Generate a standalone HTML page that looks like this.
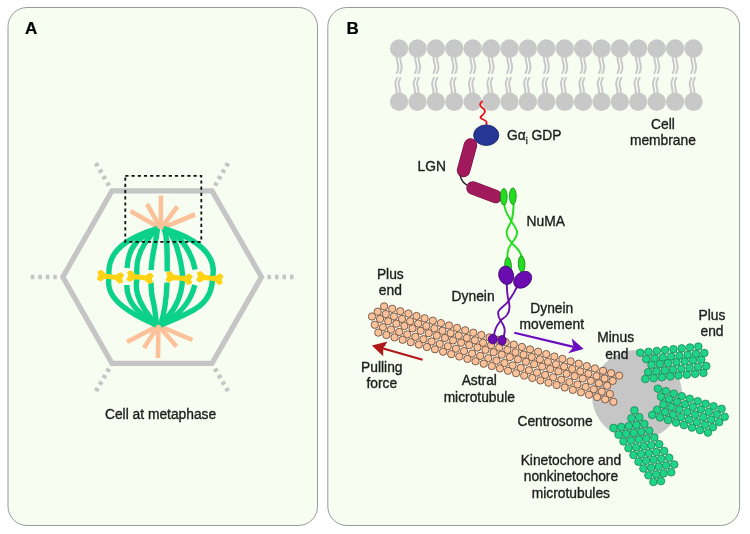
<!DOCTYPE html>
<html><head><meta charset="utf-8"><style>
html,body{margin:0;padding:0;background:#fff;}
svg{display:block;filter:blur(0.35px);font-family:"Liberation Sans",sans-serif;}
</style></head><body>
<svg width="750" height="534" viewBox="0 0 750 534">
<rect x="0" y="0" width="750" height="534" fill="#ffffff"/>
<rect x="8" y="7.5" width="309.5" height="518" rx="19" ry="19" fill="#f7fdf1" stroke="#9a9a9a" stroke-width="1.0"/>
<rect x="327.8" y="7.5" width="411.8" height="518" rx="19" ry="19" fill="#f7fdf1" stroke="#9a9a9a" stroke-width="1.0"/>
<polygon points="62.8,277 112,190.8 212,190.8 261.5,277 212,363.4 112,363.4" fill="none" stroke="#c5c5c5" stroke-width="5.3" stroke-linejoin="miter"/>
<line x1="56.8" y1="277.0" x2="30.8" y2="277.0" stroke="#c5c5c5" stroke-width="4.6" stroke-dasharray="3.5 4.0"/>
<line x1="109.0" y1="185.6" x2="95.9" y2="163.1" stroke="#c5c5c5" stroke-width="4.6" stroke-dasharray="3.5 4.0"/>
<line x1="215.0" y1="185.6" x2="228.1" y2="163.1" stroke="#c5c5c5" stroke-width="4.6" stroke-dasharray="3.5 4.0"/>
<line x1="267.5" y1="277.0" x2="293.5" y2="277.0" stroke="#c5c5c5" stroke-width="4.6" stroke-dasharray="3.5 4.0"/>
<line x1="215.0" y1="368.6" x2="228.0" y2="391.1" stroke="#c5c5c5" stroke-width="4.6" stroke-dasharray="3.5 4.0"/>
<line x1="109.0" y1="368.6" x2="96.0" y2="391.1" stroke="#c5c5c5" stroke-width="4.6" stroke-dasharray="3.5 4.0"/>
<line x1="160.8" y1="228.6" x2="161" y2="195.5" stroke="#fbc29a" stroke-width="4.6" stroke-linecap="butt"/>
<line x1="160.8" y1="228.6" x2="147" y2="204" stroke="#fbc29a" stroke-width="4.6" stroke-linecap="butt"/>
<line x1="160.8" y1="228.6" x2="130.5" y2="211" stroke="#fbc29a" stroke-width="4.6" stroke-linecap="butt"/>
<line x1="160.8" y1="228.6" x2="177.5" y2="206.5" stroke="#fbc29a" stroke-width="4.6" stroke-linecap="butt"/>
<line x1="160.8" y1="228.6" x2="195" y2="214.5" stroke="#fbc29a" stroke-width="4.6" stroke-linecap="butt"/>
<line x1="158.4" y1="325.6" x2="158" y2="358" stroke="#fbc29a" stroke-width="4.6" stroke-linecap="butt"/>
<line x1="158.4" y1="325.6" x2="127" y2="342" stroke="#fbc29a" stroke-width="4.6" stroke-linecap="butt"/>
<line x1="158.4" y1="325.6" x2="144" y2="348" stroke="#fbc29a" stroke-width="4.6" stroke-linecap="butt"/>
<line x1="158.4" y1="325.6" x2="176.5" y2="346.5" stroke="#fbc29a" stroke-width="4.6" stroke-linecap="butt"/>
<line x1="158.4" y1="325.6" x2="192.5" y2="340" stroke="#fbc29a" stroke-width="4.6" stroke-linecap="butt"/>
<path d="M157.5,228.6 C103.0,244.4 109.0,270.5 109.0,277 C109.0,282.0 100.2,301.3 156.5,325" fill="none" stroke="#0cd18b" stroke-width="5.4"/>
<path d="M157.50,228.60 C134.35,238.92 128.27,249.68 127.06,268.00" fill="none" stroke="#0cd18b" stroke-width="5.4"/>
<path d="M156.50,325.00 C130.32,308.27 127.13,297.43 126.81,285.00" fill="none" stroke="#0cd18b" stroke-width="5.4"/>
<path d="M157.5,228.6 C131.8,252.2 137.2,275.5 137.2,277 C137.2,281.2 129.7,294.7 156.5,325" fill="none" stroke="#0cd18b" stroke-width="5.4"/>
<path d="M157.50,228.60 C155.28,247.88 151.87,253.03 151.14,270.00" fill="none" stroke="#0cd18b" stroke-width="5.4"/>
<path d="M156.50,325.00 C153.43,290.44 151.31,304.65 151.03,282.50" fill="none" stroke="#0cd18b" stroke-width="5.4"/>
<path d="M163.50,228.60 C167.40,232.78 167.27,253.12 167.21,271.50" fill="none" stroke="#0cd18b" stroke-width="5.4"/>
<path d="M160.50,325.00 C165.27,310.78 166.70,292.44 167.08,282.50" fill="none" stroke="#0cd18b" stroke-width="5.4"/>
<path d="M163.5,228.6 C177.1,231.6 182.5,271.0 182.5,277 C182.5,307.1 163.1,320.6 160.5,325" fill="none" stroke="#0cd18b" stroke-width="5.4"/>
<path d="M163.50,228.60 C180.51,232.85 192.10,254.03 195.18,269.50" fill="none" stroke="#0cd18b" stroke-width="5.4"/>
<path d="M160.50,325.00 C184.12,313.77 192.17,295.63 194.80,285.00" fill="none" stroke="#0cd18b" stroke-width="5.4"/>
<path d="M163.5,228.6 C223.5,246.0 212.5,276.0 212.5,277 C212.5,302.7 198.2,310.3 160.5,325" fill="none" stroke="#0cd18b" stroke-width="5.4"/>
<path transform="translate(110.4,276.8) rotate(7)" d="M-12.2,-3.2 L-9.6,-4.6 L-5.8,-1.5 L0,-1.4 L5.8,-1.5 L9.6,-4.6 L12.2,-3.2 L10.6,0 L12.2,3.2 L9.6,4.6 L5.8,1.5 L0,1.4 L-5.8,1.5 L-9.6,4.6 L-12.2,3.2 L-10.6,0 Z" fill="#fdd314" stroke="#fdd314" stroke-width="2.2" stroke-linejoin="round"/>
<path transform="translate(140,277.3) rotate(7)" d="M-12.2,-3.2 L-9.6,-4.6 L-5.8,-1.5 L0,-1.4 L5.8,-1.5 L9.6,-4.6 L12.2,-3.2 L10.6,0 L12.2,3.2 L9.6,4.6 L5.8,1.5 L0,1.4 L-5.8,1.5 L-9.6,4.6 L-12.2,3.2 L-10.6,0 Z" fill="#fdd314" stroke="#fdd314" stroke-width="2.2" stroke-linejoin="round"/>
<path transform="translate(179.1,278) rotate(7)" d="M-12.2,-3.2 L-9.6,-4.6 L-5.8,-1.5 L0,-1.4 L5.8,-1.5 L9.6,-4.6 L12.2,-3.2 L10.6,0 L12.2,3.2 L9.6,4.6 L5.8,1.5 L0,1.4 L-5.8,1.5 L-9.6,4.6 L-12.2,3.2 L-10.6,0 Z" fill="#fdd314" stroke="#fdd314" stroke-width="2.2" stroke-linejoin="round"/>
<path transform="translate(209.8,278) rotate(7)" d="M-12.2,-3.2 L-9.6,-4.6 L-5.8,-1.5 L0,-1.4 L5.8,-1.5 L9.6,-4.6 L12.2,-3.2 L10.6,0 L12.2,3.2 L9.6,4.6 L5.8,1.5 L0,1.4 L-5.8,1.5 L-9.6,4.6 L-12.2,3.2 L-10.6,0 Z" fill="#fdd314" stroke="#fdd314" stroke-width="2.2" stroke-linejoin="round"/>
<rect x="125.3" y="175.8" width="76" height="66" fill="none" stroke="#111" stroke-width="1.8" stroke-dasharray="3.2 3"/>
<text x="25" y="34.1" font-size="17" text-anchor="start" font-weight="bold" fill="#000" stroke="#000" stroke-width="0.2">A</text>
<text x="346.5" y="33.9" font-size="17" text-anchor="start" font-weight="bold" fill="#000" stroke="#000" stroke-width="0.2">B</text>
<text x="160.6" y="418.7" font-size="13.8" text-anchor="middle" font-weight="normal" fill="#1e1e1e" stroke="#1e1e1e" stroke-width="0.35">Cell at metaphase</text>
<path d="M396.7,57 C396.7,62 398.5,64 398.3,67.5 C398.1,70.5 396.9,72.5 396.5,73.8" fill="none" stroke="#c8c8c8" stroke-width="1.95"/>
<path d="M397.3,77.2 C396.9,79 395.1,80.5 395.3,83.5 C395.5,86.5 396.7,88 396.7,94" fill="none" stroke="#c8c8c8" stroke-width="1.95"/>
<path d="M400.1,57 C400.1,62 401.9,64 401.7,67.5 C401.5,70.5 400.3,72.5 399.9,73.8" fill="none" stroke="#c8c8c8" stroke-width="1.95"/>
<path d="M400.7,77.2 C400.3,79 398.5,80.5 398.7,83.5 C398.9,86.5 400.1,88 400.1,94" fill="none" stroke="#c8c8c8" stroke-width="1.95"/>
<path d="M415.1,57 C415.1,62 416.9,64 416.7,67.5 C416.5,70.5 415.3,72.5 414.9,73.8" fill="none" stroke="#c8c8c8" stroke-width="1.95"/>
<path d="M415.7,77.2 C415.3,79 413.5,80.5 413.7,83.5 C413.9,86.5 415.1,88 415.1,94" fill="none" stroke="#c8c8c8" stroke-width="1.95"/>
<path d="M418.5,57 C418.5,62 420.3,64 420.1,67.5 C419.9,70.5 418.7,72.5 418.3,73.8" fill="none" stroke="#c8c8c8" stroke-width="1.95"/>
<path d="M419.1,77.2 C418.7,79 416.9,80.5 417.1,83.5 C417.3,86.5 418.5,88 418.5,94" fill="none" stroke="#c8c8c8" stroke-width="1.95"/>
<path d="M433.5,57 C433.5,62 435.3,64 435.1,67.5 C434.9,70.5 433.7,72.5 433.3,73.8" fill="none" stroke="#c8c8c8" stroke-width="1.95"/>
<path d="M434.1,77.2 C433.7,79 431.9,80.5 432.1,83.5 C432.3,86.5 433.5,88 433.5,94" fill="none" stroke="#c8c8c8" stroke-width="1.95"/>
<path d="M436.9,57 C436.9,62 438.7,64 438.5,67.5 C438.3,70.5 437.1,72.5 436.7,73.8" fill="none" stroke="#c8c8c8" stroke-width="1.95"/>
<path d="M437.5,77.2 C437.1,79 435.3,80.5 435.5,83.5 C435.7,86.5 436.9,88 436.9,94" fill="none" stroke="#c8c8c8" stroke-width="1.95"/>
<path d="M451.9,57 C451.9,62 453.7,64 453.5,67.5 C453.3,70.5 452.1,72.5 451.7,73.8" fill="none" stroke="#c8c8c8" stroke-width="1.95"/>
<path d="M452.5,77.2 C452.1,79 450.3,80.5 450.5,83.5 C450.7,86.5 451.9,88 451.9,94" fill="none" stroke="#c8c8c8" stroke-width="1.95"/>
<path d="M455.3,57 C455.3,62 457.1,64 456.9,67.5 C456.7,70.5 455.5,72.5 455.1,73.8" fill="none" stroke="#c8c8c8" stroke-width="1.95"/>
<path d="M455.9,77.2 C455.5,79 453.7,80.5 453.9,83.5 C454.1,86.5 455.3,88 455.3,94" fill="none" stroke="#c8c8c8" stroke-width="1.95"/>
<path d="M470.3,57 C470.3,62 472.1,64 471.9,67.5 C471.7,70.5 470.5,72.5 470.1,73.8" fill="none" stroke="#c8c8c8" stroke-width="1.95"/>
<path d="M470.9,77.2 C470.5,79 468.7,80.5 468.9,83.5 C469.1,86.5 470.3,88 470.3,94" fill="none" stroke="#c8c8c8" stroke-width="1.95"/>
<path d="M473.7,57 C473.7,62 475.5,64 475.3,67.5 C475.1,70.5 473.9,72.5 473.5,73.8" fill="none" stroke="#c8c8c8" stroke-width="1.95"/>
<path d="M474.3,77.2 C473.9,79 472.1,80.5 472.3,83.5 C472.5,86.5 473.7,88 473.7,94" fill="none" stroke="#c8c8c8" stroke-width="1.95"/>
<path d="M488.7,57 C488.7,62 490.5,64 490.3,67.5 C490.1,70.5 488.9,72.5 488.5,73.8" fill="none" stroke="#c8c8c8" stroke-width="1.95"/>
<path d="M489.3,77.2 C488.9,79 487.1,80.5 487.3,83.5 C487.5,86.5 488.7,88 488.7,94" fill="none" stroke="#c8c8c8" stroke-width="1.95"/>
<path d="M492.1,57 C492.1,62 493.9,64 493.7,67.5 C493.5,70.5 492.3,72.5 491.9,73.8" fill="none" stroke="#c8c8c8" stroke-width="1.95"/>
<path d="M492.7,77.2 C492.3,79 490.5,80.5 490.7,83.5 C490.9,86.5 492.1,88 492.1,94" fill="none" stroke="#c8c8c8" stroke-width="1.95"/>
<path d="M507.1,57 C507.1,62 508.9,64 508.7,67.5 C508.5,70.5 507.3,72.5 506.9,73.8" fill="none" stroke="#c8c8c8" stroke-width="1.95"/>
<path d="M507.7,77.2 C507.3,79 505.5,80.5 505.7,83.5 C505.9,86.5 507.1,88 507.1,94" fill="none" stroke="#c8c8c8" stroke-width="1.95"/>
<path d="M510.5,57 C510.5,62 512.3,64 512.1,67.5 C511.9,70.5 510.7,72.5 510.3,73.8" fill="none" stroke="#c8c8c8" stroke-width="1.95"/>
<path d="M511.1,77.2 C510.7,79 508.9,80.5 509.1,83.5 C509.3,86.5 510.5,88 510.5,94" fill="none" stroke="#c8c8c8" stroke-width="1.95"/>
<path d="M525.5,57 C525.5,62 527.3,64 527.1,67.5 C526.9,70.5 525.7,72.5 525.3,73.8" fill="none" stroke="#c8c8c8" stroke-width="1.95"/>
<path d="M526.1,77.2 C525.7,79 523.9,80.5 524.1,83.5 C524.3,86.5 525.5,88 525.5,94" fill="none" stroke="#c8c8c8" stroke-width="1.95"/>
<path d="M528.9,57 C528.9,62 530.7,64 530.5,67.5 C530.3,70.5 529.1,72.5 528.7,73.8" fill="none" stroke="#c8c8c8" stroke-width="1.95"/>
<path d="M529.5,77.2 C529.1,79 527.3,80.5 527.5,83.5 C527.7,86.5 528.9,88 528.9,94" fill="none" stroke="#c8c8c8" stroke-width="1.95"/>
<path d="M543.9,57 C543.9,62 545.7,64 545.5,67.5 C545.3,70.5 544.1,72.5 543.7,73.8" fill="none" stroke="#c8c8c8" stroke-width="1.95"/>
<path d="M544.5,77.2 C544.1,79 542.3,80.5 542.5,83.5 C542.7,86.5 543.9,88 543.9,94" fill="none" stroke="#c8c8c8" stroke-width="1.95"/>
<path d="M547.3,57 C547.3,62 549.1,64 548.9,67.5 C548.7,70.5 547.5,72.5 547.1,73.8" fill="none" stroke="#c8c8c8" stroke-width="1.95"/>
<path d="M547.9,77.2 C547.5,79 545.7,80.5 545.9,83.5 C546.1,86.5 547.3,88 547.3,94" fill="none" stroke="#c8c8c8" stroke-width="1.95"/>
<path d="M562.3,57 C562.3,62 564.1,64 563.9,67.5 C563.7,70.5 562.5,72.5 562.1,73.8" fill="none" stroke="#c8c8c8" stroke-width="1.95"/>
<path d="M562.9,77.2 C562.5,79 560.7,80.5 560.9,83.5 C561.1,86.5 562.3,88 562.3,94" fill="none" stroke="#c8c8c8" stroke-width="1.95"/>
<path d="M565.7,57 C565.7,62 567.5,64 567.3,67.5 C567.1,70.5 565.9,72.5 565.5,73.8" fill="none" stroke="#c8c8c8" stroke-width="1.95"/>
<path d="M566.3,77.2 C565.9,79 564.1,80.5 564.3,83.5 C564.5,86.5 565.7,88 565.7,94" fill="none" stroke="#c8c8c8" stroke-width="1.95"/>
<path d="M580.7,57 C580.7,62 582.5,64 582.3,67.5 C582.1,70.5 580.9,72.5 580.5,73.8" fill="none" stroke="#c8c8c8" stroke-width="1.95"/>
<path d="M581.3,77.2 C580.9,79 579.1,80.5 579.3,83.5 C579.5,86.5 580.7,88 580.7,94" fill="none" stroke="#c8c8c8" stroke-width="1.95"/>
<path d="M584.1,57 C584.1,62 585.9,64 585.7,67.5 C585.5,70.5 584.3,72.5 583.9,73.8" fill="none" stroke="#c8c8c8" stroke-width="1.95"/>
<path d="M584.7,77.2 C584.3,79 582.5,80.5 582.7,83.5 C582.9,86.5 584.1,88 584.1,94" fill="none" stroke="#c8c8c8" stroke-width="1.95"/>
<path d="M599.1,57 C599.1,62 600.9,64 600.7,67.5 C600.5,70.5 599.3,72.5 598.9,73.8" fill="none" stroke="#c8c8c8" stroke-width="1.95"/>
<path d="M599.7,77.2 C599.3,79 597.5,80.5 597.7,83.5 C597.9,86.5 599.1,88 599.1,94" fill="none" stroke="#c8c8c8" stroke-width="1.95"/>
<path d="M602.5,57 C602.5,62 604.3,64 604.1,67.5 C603.9,70.5 602.7,72.5 602.3,73.8" fill="none" stroke="#c8c8c8" stroke-width="1.95"/>
<path d="M603.1,77.2 C602.7,79 600.9,80.5 601.1,83.5 C601.3,86.5 602.5,88 602.5,94" fill="none" stroke="#c8c8c8" stroke-width="1.95"/>
<path d="M617.5,57 C617.5,62 619.3,64 619.1,67.5 C618.9,70.5 617.7,72.5 617.3,73.8" fill="none" stroke="#c8c8c8" stroke-width="1.95"/>
<path d="M618.1,77.2 C617.7,79 615.9,80.5 616.1,83.5 C616.3,86.5 617.5,88 617.5,94" fill="none" stroke="#c8c8c8" stroke-width="1.95"/>
<path d="M620.9,57 C620.9,62 622.7,64 622.5,67.5 C622.3,70.5 621.1,72.5 620.7,73.8" fill="none" stroke="#c8c8c8" stroke-width="1.95"/>
<path d="M621.5,77.2 C621.1,79 619.3,80.5 619.5,83.5 C619.7,86.5 620.9,88 620.9,94" fill="none" stroke="#c8c8c8" stroke-width="1.95"/>
<path d="M635.9,57 C635.9,62 637.7,64 637.5,67.5 C637.3,70.5 636.1,72.5 635.7,73.8" fill="none" stroke="#c8c8c8" stroke-width="1.95"/>
<path d="M636.5,77.2 C636.1,79 634.3,80.5 634.5,83.5 C634.7,86.5 635.9,88 635.9,94" fill="none" stroke="#c8c8c8" stroke-width="1.95"/>
<path d="M639.3,57 C639.3,62 641.1,64 640.9,67.5 C640.7,70.5 639.5,72.5 639.1,73.8" fill="none" stroke="#c8c8c8" stroke-width="1.95"/>
<path d="M639.9,77.2 C639.5,79 637.7,80.5 637.9,83.5 C638.1,86.5 639.3,88 639.3,94" fill="none" stroke="#c8c8c8" stroke-width="1.95"/>
<path d="M654.3,57 C654.3,62 656.1,64 655.9,67.5 C655.7,70.5 654.5,72.5 654.1,73.8" fill="none" stroke="#c8c8c8" stroke-width="1.95"/>
<path d="M654.9,77.2 C654.5,79 652.7,80.5 652.9,83.5 C653.1,86.5 654.3,88 654.3,94" fill="none" stroke="#c8c8c8" stroke-width="1.95"/>
<path d="M657.7,57 C657.7,62 659.5,64 659.3,67.5 C659.1,70.5 657.9,72.5 657.5,73.8" fill="none" stroke="#c8c8c8" stroke-width="1.95"/>
<path d="M658.3,77.2 C657.9,79 656.1,80.5 656.3,83.5 C656.5,86.5 657.7,88 657.7,94" fill="none" stroke="#c8c8c8" stroke-width="1.95"/>
<path d="M672.7,57 C672.7,62 674.5,64 674.3,67.5 C674.1,70.5 672.9,72.5 672.5,73.8" fill="none" stroke="#c8c8c8" stroke-width="1.95"/>
<path d="M673.3,77.2 C672.9,79 671.1,80.5 671.3,83.5 C671.5,86.5 672.7,88 672.7,94" fill="none" stroke="#c8c8c8" stroke-width="1.95"/>
<path d="M676.1,57 C676.1,62 677.9,64 677.7,67.5 C677.5,70.5 676.3,72.5 675.9,73.8" fill="none" stroke="#c8c8c8" stroke-width="1.95"/>
<path d="M676.7,77.2 C676.3,79 674.5,80.5 674.7,83.5 C674.9,86.5 676.1,88 676.1,94" fill="none" stroke="#c8c8c8" stroke-width="1.95"/>
<path d="M691.1,57 C691.1,62 692.9,64 692.7,67.5 C692.5,70.5 691.3,72.5 690.9,73.8" fill="none" stroke="#c8c8c8" stroke-width="1.95"/>
<path d="M691.7,77.2 C691.3,79 689.5,80.5 689.7,83.5 C689.9,86.5 691.1,88 691.1,94" fill="none" stroke="#c8c8c8" stroke-width="1.95"/>
<path d="M694.5,57 C694.5,62 696.3,64 696.1,67.5 C695.9,70.5 694.7,72.5 694.3,73.8" fill="none" stroke="#c8c8c8" stroke-width="1.95"/>
<path d="M695.1,77.2 C694.7,79 692.9,80.5 693.1,83.5 C693.3,86.5 694.5,88 694.5,94" fill="none" stroke="#c8c8c8" stroke-width="1.95"/>
<circle cx="399.1" cy="48.4" r="9.2" fill="#c8c8c8"/>
<circle cx="399.1" cy="101.7" r="9.2" fill="#c8c8c8"/>
<circle cx="417.5" cy="48.4" r="9.2" fill="#c8c8c8"/>
<circle cx="417.5" cy="101.7" r="9.2" fill="#c8c8c8"/>
<circle cx="435.9" cy="48.4" r="9.2" fill="#c8c8c8"/>
<circle cx="435.9" cy="101.7" r="9.2" fill="#c8c8c8"/>
<circle cx="454.3" cy="48.4" r="9.2" fill="#c8c8c8"/>
<circle cx="454.3" cy="101.7" r="9.2" fill="#c8c8c8"/>
<circle cx="472.7" cy="48.4" r="9.2" fill="#c8c8c8"/>
<circle cx="472.7" cy="101.7" r="9.2" fill="#c8c8c8"/>
<circle cx="491.1" cy="48.4" r="9.2" fill="#c8c8c8"/>
<circle cx="491.1" cy="101.7" r="9.2" fill="#c8c8c8"/>
<circle cx="509.5" cy="48.4" r="9.2" fill="#c8c8c8"/>
<circle cx="509.5" cy="101.7" r="9.2" fill="#c8c8c8"/>
<circle cx="527.9" cy="48.4" r="9.2" fill="#c8c8c8"/>
<circle cx="527.9" cy="101.7" r="9.2" fill="#c8c8c8"/>
<circle cx="546.3" cy="48.4" r="9.2" fill="#c8c8c8"/>
<circle cx="546.3" cy="101.7" r="9.2" fill="#c8c8c8"/>
<circle cx="564.7" cy="48.4" r="9.2" fill="#c8c8c8"/>
<circle cx="564.7" cy="101.7" r="9.2" fill="#c8c8c8"/>
<circle cx="583.1" cy="48.4" r="9.2" fill="#c8c8c8"/>
<circle cx="583.1" cy="101.7" r="9.2" fill="#c8c8c8"/>
<circle cx="601.5" cy="48.4" r="9.2" fill="#c8c8c8"/>
<circle cx="601.5" cy="101.7" r="9.2" fill="#c8c8c8"/>
<circle cx="619.9" cy="48.4" r="9.2" fill="#c8c8c8"/>
<circle cx="619.9" cy="101.7" r="9.2" fill="#c8c8c8"/>
<circle cx="638.3" cy="48.4" r="9.2" fill="#c8c8c8"/>
<circle cx="638.3" cy="101.7" r="9.2" fill="#c8c8c8"/>
<circle cx="656.7" cy="48.4" r="9.2" fill="#c8c8c8"/>
<circle cx="656.7" cy="101.7" r="9.2" fill="#c8c8c8"/>
<circle cx="675.1" cy="48.4" r="9.2" fill="#c8c8c8"/>
<circle cx="675.1" cy="101.7" r="9.2" fill="#c8c8c8"/>
<circle cx="693.5" cy="48.4" r="9.2" fill="#c8c8c8"/>
<circle cx="693.5" cy="101.7" r="9.2" fill="#c8c8c8"/>
<path d="M482.6,101 C479,104 479.5,106 483,108.5 C487,111 484,114 481,116.5 C478.5,119 486,119.5 486.5,122 L486.5,125" fill="none" stroke="#e8141e" stroke-width="1.8"/>
<ellipse cx="486.2" cy="135.2" rx="12.6" ry="10.3" fill="#243797" stroke="#1a2466" stroke-width="0.8"/>
<line x1="470.5" y1="145" x2="463.5" y2="170.5" stroke="#7a1244" stroke-width="13.5" stroke-linecap="round"/>
<line x1="470.5" y1="145" x2="463.5" y2="170.5" stroke="#a01a5c" stroke-width="12.3" stroke-linecap="round"/>
<path d="M460,175 C461,180 463,183 467.5,185.5" fill="none" stroke="#222" stroke-width="1.3"/>
<line x1="473" y1="188" x2="495.5" y2="196.5" stroke="#7a1244" stroke-width="13.5" stroke-linecap="round"/>
<line x1="473" y1="188" x2="495.5" y2="196.5" stroke="#a01a5c" stroke-width="12.3" stroke-linecap="round"/>
<path d="M504.3,204 C504.5,212 509,216 511.3,221.5 C514.5,226 517.1,229 517.1,232.6 C517.1,237 514,240 511.9,243 C509,247 507,250 507.5,258" fill="none" stroke="#22dd22" stroke-width="1.9"/>
<path d="M513.6,204 C513.6,212 513,216 511.3,221.5 C509,226 506.6,229 506.6,232.6 C506.6,237 509,240 511.9,243 C515,247 521,250 521.8,258" fill="none" stroke="#22dd22" stroke-width="1.9"/>
<ellipse cx="503.8" cy="196.8" rx="3.4" ry="8.3" fill="#22dd22" stroke="#138a13" stroke-width="0.8"/>
<ellipse cx="512.8" cy="196.2" rx="3.4" ry="8.3" fill="#22dd22" stroke="#138a13" stroke-width="0.8"/>
<ellipse cx="508.1" cy="265.5" rx="3.3" ry="8.2" transform="rotate(-4 508.1 265.5)" fill="#22dd22" stroke="#138a13" stroke-width="0.8"/>
<ellipse cx="521.6" cy="264" rx="3.3" ry="8.2" transform="rotate(-3 521.6 264)" fill="#22dd22" stroke="#138a13" stroke-width="0.8"/>
<path d="M506.7,284 C507,292 507.5,297 508.6,301 C510,306 510,311 507,315 C504.5,318 502,319 500.7,320.7 C498,324 494,328 494,337" fill="none" stroke="#6a0cb0" stroke-width="1.9"/>
<path d="M517.2,286 C515,292 511,297 508.6,301 C505,306 498,309 498.1,312.8 C498,317 499.5,319 500.7,320.7 C503,324 505,328 504.7,331 C504.5,334 504,336 503.5,337" fill="none" stroke="#6a0cb0" stroke-width="1.9"/>
<ellipse cx="506.2" cy="275.3" rx="7.4" ry="9.3" transform="rotate(-15 506.2 275.3)" fill="#6a0cb0" stroke="#3a0670" stroke-width="0.8"/>
<ellipse cx="522.7" cy="279.8" rx="9.9" ry="7.4" transform="rotate(-38 522.7 279.8)" fill="#6a0cb0" stroke="#3a0670" stroke-width="0.8"/>
<circle cx="637" cy="395" r="45" fill="#c6c6c6"/>
<circle cx="384.1" cy="306.4" r="3.65" fill="#fbc29a" stroke="#7d5c48" stroke-width="1.0"/>
<circle cx="392.2" cy="308.8" r="3.65" fill="#fbc29a" stroke="#7d5c48" stroke-width="1.0"/>
<circle cx="400.3" cy="311.2" r="3.65" fill="#fbc29a" stroke="#7d5c48" stroke-width="1.0"/>
<circle cx="408.4" cy="313.6" r="3.65" fill="#fbc29a" stroke="#7d5c48" stroke-width="1.0"/>
<circle cx="416.5" cy="316.0" r="3.65" fill="#fbc29a" stroke="#7d5c48" stroke-width="1.0"/>
<circle cx="424.6" cy="318.3" r="3.65" fill="#fbc29a" stroke="#7d5c48" stroke-width="1.0"/>
<circle cx="432.8" cy="320.7" r="3.65" fill="#fbc29a" stroke="#7d5c48" stroke-width="1.0"/>
<circle cx="440.9" cy="323.1" r="3.65" fill="#fbc29a" stroke="#7d5c48" stroke-width="1.0"/>
<circle cx="449.0" cy="325.5" r="3.65" fill="#fbc29a" stroke="#7d5c48" stroke-width="1.0"/>
<circle cx="457.1" cy="327.9" r="3.65" fill="#fbc29a" stroke="#7d5c48" stroke-width="1.0"/>
<circle cx="465.2" cy="330.3" r="3.65" fill="#fbc29a" stroke="#7d5c48" stroke-width="1.0"/>
<circle cx="473.3" cy="332.7" r="3.65" fill="#fbc29a" stroke="#7d5c48" stroke-width="1.0"/>
<circle cx="481.4" cy="335.0" r="3.65" fill="#fbc29a" stroke="#7d5c48" stroke-width="1.0"/>
<circle cx="489.5" cy="337.4" r="3.65" fill="#fbc29a" stroke="#7d5c48" stroke-width="1.0"/>
<circle cx="497.6" cy="339.8" r="3.65" fill="#fbc29a" stroke="#7d5c48" stroke-width="1.0"/>
<circle cx="505.7" cy="342.2" r="3.65" fill="#fbc29a" stroke="#7d5c48" stroke-width="1.0"/>
<circle cx="513.8" cy="344.6" r="3.65" fill="#fbc29a" stroke="#7d5c48" stroke-width="1.0"/>
<circle cx="521.9" cy="347.0" r="3.65" fill="#fbc29a" stroke="#7d5c48" stroke-width="1.0"/>
<circle cx="530.0" cy="349.4" r="3.65" fill="#fbc29a" stroke="#7d5c48" stroke-width="1.0"/>
<circle cx="538.1" cy="351.7" r="3.65" fill="#fbc29a" stroke="#7d5c48" stroke-width="1.0"/>
<circle cx="546.2" cy="354.1" r="3.65" fill="#fbc29a" stroke="#7d5c48" stroke-width="1.0"/>
<circle cx="554.3" cy="356.5" r="3.65" fill="#fbc29a" stroke="#7d5c48" stroke-width="1.0"/>
<circle cx="562.4" cy="358.9" r="3.65" fill="#fbc29a" stroke="#7d5c48" stroke-width="1.0"/>
<circle cx="570.6" cy="361.3" r="3.65" fill="#fbc29a" stroke="#7d5c48" stroke-width="1.0"/>
<circle cx="578.7" cy="363.7" r="3.65" fill="#fbc29a" stroke="#7d5c48" stroke-width="1.0"/>
<circle cx="586.8" cy="366.1" r="3.65" fill="#fbc29a" stroke="#7d5c48" stroke-width="1.0"/>
<circle cx="594.9" cy="368.4" r="3.65" fill="#fbc29a" stroke="#7d5c48" stroke-width="1.0"/>
<circle cx="603.0" cy="370.8" r="3.65" fill="#fbc29a" stroke="#7d5c48" stroke-width="1.0"/>
<circle cx="611.1" cy="373.2" r="3.65" fill="#fbc29a" stroke="#7d5c48" stroke-width="1.0"/>
<circle cx="619.2" cy="375.6" r="3.65" fill="#fbc29a" stroke="#7d5c48" stroke-width="1.0"/>
<circle cx="377.7" cy="311.7" r="3.65" fill="#fbc29a" stroke="#7d5c48" stroke-width="1.0"/>
<circle cx="385.8" cy="314.1" r="3.65" fill="#fbc29a" stroke="#7d5c48" stroke-width="1.0"/>
<circle cx="393.9" cy="316.5" r="3.65" fill="#fbc29a" stroke="#7d5c48" stroke-width="1.0"/>
<circle cx="402.0" cy="318.9" r="3.65" fill="#fbc29a" stroke="#7d5c48" stroke-width="1.0"/>
<circle cx="410.1" cy="321.3" r="3.65" fill="#fbc29a" stroke="#7d5c48" stroke-width="1.0"/>
<circle cx="418.2" cy="323.6" r="3.65" fill="#fbc29a" stroke="#7d5c48" stroke-width="1.0"/>
<circle cx="426.3" cy="326.0" r="3.65" fill="#fbc29a" stroke="#7d5c48" stroke-width="1.0"/>
<circle cx="434.4" cy="328.4" r="3.65" fill="#fbc29a" stroke="#7d5c48" stroke-width="1.0"/>
<circle cx="442.5" cy="330.8" r="3.65" fill="#fbc29a" stroke="#7d5c48" stroke-width="1.0"/>
<circle cx="450.6" cy="333.2" r="3.65" fill="#fbc29a" stroke="#7d5c48" stroke-width="1.0"/>
<circle cx="458.7" cy="335.6" r="3.65" fill="#fbc29a" stroke="#7d5c48" stroke-width="1.0"/>
<circle cx="466.8" cy="338.0" r="3.65" fill="#fbc29a" stroke="#7d5c48" stroke-width="1.0"/>
<circle cx="474.9" cy="340.3" r="3.65" fill="#fbc29a" stroke="#7d5c48" stroke-width="1.0"/>
<circle cx="483.0" cy="342.7" r="3.65" fill="#fbc29a" stroke="#7d5c48" stroke-width="1.0"/>
<circle cx="491.1" cy="345.1" r="3.65" fill="#fbc29a" stroke="#7d5c48" stroke-width="1.0"/>
<circle cx="499.2" cy="347.5" r="3.65" fill="#fbc29a" stroke="#7d5c48" stroke-width="1.0"/>
<circle cx="507.4" cy="349.9" r="3.65" fill="#fbc29a" stroke="#7d5c48" stroke-width="1.0"/>
<circle cx="515.5" cy="352.3" r="3.65" fill="#fbc29a" stroke="#7d5c48" stroke-width="1.0"/>
<circle cx="523.6" cy="354.7" r="3.65" fill="#fbc29a" stroke="#7d5c48" stroke-width="1.0"/>
<circle cx="531.7" cy="357.0" r="3.65" fill="#fbc29a" stroke="#7d5c48" stroke-width="1.0"/>
<circle cx="539.8" cy="359.4" r="3.65" fill="#fbc29a" stroke="#7d5c48" stroke-width="1.0"/>
<circle cx="547.9" cy="361.8" r="3.65" fill="#fbc29a" stroke="#7d5c48" stroke-width="1.0"/>
<circle cx="556.0" cy="364.2" r="3.65" fill="#fbc29a" stroke="#7d5c48" stroke-width="1.0"/>
<circle cx="564.1" cy="366.6" r="3.65" fill="#fbc29a" stroke="#7d5c48" stroke-width="1.0"/>
<circle cx="572.2" cy="369.0" r="3.65" fill="#fbc29a" stroke="#7d5c48" stroke-width="1.0"/>
<circle cx="580.3" cy="371.4" r="3.65" fill="#fbc29a" stroke="#7d5c48" stroke-width="1.0"/>
<circle cx="588.4" cy="373.7" r="3.65" fill="#fbc29a" stroke="#7d5c48" stroke-width="1.0"/>
<circle cx="596.5" cy="376.1" r="3.65" fill="#fbc29a" stroke="#7d5c48" stroke-width="1.0"/>
<circle cx="604.6" cy="378.5" r="3.65" fill="#fbc29a" stroke="#7d5c48" stroke-width="1.0"/>
<circle cx="612.7" cy="380.9" r="3.65" fill="#fbc29a" stroke="#7d5c48" stroke-width="1.0"/>
<circle cx="372.0" cy="316.5" r="3.65" fill="#fbc29a" stroke="#7d5c48" stroke-width="1.0"/>
<circle cx="380.1" cy="318.9" r="3.65" fill="#fbc29a" stroke="#7d5c48" stroke-width="1.0"/>
<circle cx="388.2" cy="321.3" r="3.65" fill="#fbc29a" stroke="#7d5c48" stroke-width="1.0"/>
<circle cx="396.3" cy="323.7" r="3.65" fill="#fbc29a" stroke="#7d5c48" stroke-width="1.0"/>
<circle cx="404.4" cy="326.0" r="3.65" fill="#fbc29a" stroke="#7d5c48" stroke-width="1.0"/>
<circle cx="412.5" cy="328.4" r="3.65" fill="#fbc29a" stroke="#7d5c48" stroke-width="1.0"/>
<circle cx="420.6" cy="330.8" r="3.65" fill="#fbc29a" stroke="#7d5c48" stroke-width="1.0"/>
<circle cx="428.7" cy="333.2" r="3.65" fill="#fbc29a" stroke="#7d5c48" stroke-width="1.0"/>
<circle cx="436.8" cy="335.6" r="3.65" fill="#fbc29a" stroke="#7d5c48" stroke-width="1.0"/>
<circle cx="444.9" cy="338.0" r="3.65" fill="#fbc29a" stroke="#7d5c48" stroke-width="1.0"/>
<circle cx="453.0" cy="340.4" r="3.65" fill="#fbc29a" stroke="#7d5c48" stroke-width="1.0"/>
<circle cx="461.1" cy="342.7" r="3.65" fill="#fbc29a" stroke="#7d5c48" stroke-width="1.0"/>
<circle cx="469.2" cy="345.1" r="3.65" fill="#fbc29a" stroke="#7d5c48" stroke-width="1.0"/>
<circle cx="477.4" cy="347.5" r="3.65" fill="#fbc29a" stroke="#7d5c48" stroke-width="1.0"/>
<circle cx="485.5" cy="349.9" r="3.65" fill="#fbc29a" stroke="#7d5c48" stroke-width="1.0"/>
<circle cx="493.6" cy="352.3" r="3.65" fill="#fbc29a" stroke="#7d5c48" stroke-width="1.0"/>
<circle cx="501.7" cy="354.7" r="3.65" fill="#fbc29a" stroke="#7d5c48" stroke-width="1.0"/>
<circle cx="509.8" cy="357.1" r="3.65" fill="#fbc29a" stroke="#7d5c48" stroke-width="1.0"/>
<circle cx="517.9" cy="359.4" r="3.65" fill="#fbc29a" stroke="#7d5c48" stroke-width="1.0"/>
<circle cx="526.0" cy="361.8" r="3.65" fill="#fbc29a" stroke="#7d5c48" stroke-width="1.0"/>
<circle cx="534.1" cy="364.2" r="3.65" fill="#fbc29a" stroke="#7d5c48" stroke-width="1.0"/>
<circle cx="542.2" cy="366.6" r="3.65" fill="#fbc29a" stroke="#7d5c48" stroke-width="1.0"/>
<circle cx="550.3" cy="369.0" r="3.65" fill="#fbc29a" stroke="#7d5c48" stroke-width="1.0"/>
<circle cx="558.4" cy="371.4" r="3.65" fill="#fbc29a" stroke="#7d5c48" stroke-width="1.0"/>
<circle cx="566.5" cy="373.8" r="3.65" fill="#fbc29a" stroke="#7d5c48" stroke-width="1.0"/>
<circle cx="574.6" cy="376.1" r="3.65" fill="#fbc29a" stroke="#7d5c48" stroke-width="1.0"/>
<circle cx="582.7" cy="378.5" r="3.65" fill="#fbc29a" stroke="#7d5c48" stroke-width="1.0"/>
<circle cx="590.8" cy="380.9" r="3.65" fill="#fbc29a" stroke="#7d5c48" stroke-width="1.0"/>
<circle cx="598.9" cy="383.3" r="3.65" fill="#fbc29a" stroke="#7d5c48" stroke-width="1.0"/>
<circle cx="607.1" cy="385.7" r="3.65" fill="#fbc29a" stroke="#7d5c48" stroke-width="1.0"/>
<circle cx="374.8" cy="324.8" r="3.65" fill="#fbc29a" stroke="#7d5c48" stroke-width="1.0"/>
<circle cx="382.9" cy="327.2" r="3.65" fill="#fbc29a" stroke="#7d5c48" stroke-width="1.0"/>
<circle cx="391.0" cy="329.6" r="3.65" fill="#fbc29a" stroke="#7d5c48" stroke-width="1.0"/>
<circle cx="399.2" cy="332.0" r="3.65" fill="#fbc29a" stroke="#7d5c48" stroke-width="1.0"/>
<circle cx="407.3" cy="334.4" r="3.65" fill="#fbc29a" stroke="#7d5c48" stroke-width="1.0"/>
<circle cx="415.4" cy="336.8" r="3.65" fill="#fbc29a" stroke="#7d5c48" stroke-width="1.0"/>
<circle cx="423.5" cy="339.2" r="3.65" fill="#fbc29a" stroke="#7d5c48" stroke-width="1.0"/>
<circle cx="431.6" cy="341.5" r="3.65" fill="#fbc29a" stroke="#7d5c48" stroke-width="1.0"/>
<circle cx="439.7" cy="343.9" r="3.65" fill="#fbc29a" stroke="#7d5c48" stroke-width="1.0"/>
<circle cx="447.8" cy="346.3" r="3.65" fill="#fbc29a" stroke="#7d5c48" stroke-width="1.0"/>
<circle cx="455.9" cy="348.7" r="3.65" fill="#fbc29a" stroke="#7d5c48" stroke-width="1.0"/>
<circle cx="464.0" cy="351.1" r="3.65" fill="#fbc29a" stroke="#7d5c48" stroke-width="1.0"/>
<circle cx="472.1" cy="353.5" r="3.65" fill="#fbc29a" stroke="#7d5c48" stroke-width="1.0"/>
<circle cx="480.2" cy="355.9" r="3.65" fill="#fbc29a" stroke="#7d5c48" stroke-width="1.0"/>
<circle cx="488.3" cy="358.2" r="3.65" fill="#fbc29a" stroke="#7d5c48" stroke-width="1.0"/>
<circle cx="496.4" cy="360.6" r="3.65" fill="#fbc29a" stroke="#7d5c48" stroke-width="1.0"/>
<circle cx="504.5" cy="363.0" r="3.65" fill="#fbc29a" stroke="#7d5c48" stroke-width="1.0"/>
<circle cx="512.6" cy="365.4" r="3.65" fill="#fbc29a" stroke="#7d5c48" stroke-width="1.0"/>
<circle cx="520.7" cy="367.8" r="3.65" fill="#fbc29a" stroke="#7d5c48" stroke-width="1.0"/>
<circle cx="528.9" cy="370.2" r="3.65" fill="#fbc29a" stroke="#7d5c48" stroke-width="1.0"/>
<circle cx="537.0" cy="372.6" r="3.65" fill="#fbc29a" stroke="#7d5c48" stroke-width="1.0"/>
<circle cx="545.1" cy="374.9" r="3.65" fill="#fbc29a" stroke="#7d5c48" stroke-width="1.0"/>
<circle cx="553.2" cy="377.3" r="3.65" fill="#fbc29a" stroke="#7d5c48" stroke-width="1.0"/>
<circle cx="561.3" cy="379.7" r="3.65" fill="#fbc29a" stroke="#7d5c48" stroke-width="1.0"/>
<circle cx="569.4" cy="382.1" r="3.65" fill="#fbc29a" stroke="#7d5c48" stroke-width="1.0"/>
<circle cx="577.5" cy="384.5" r="3.65" fill="#fbc29a" stroke="#7d5c48" stroke-width="1.0"/>
<circle cx="585.6" cy="386.9" r="3.65" fill="#fbc29a" stroke="#7d5c48" stroke-width="1.0"/>
<circle cx="593.7" cy="389.3" r="3.65" fill="#fbc29a" stroke="#7d5c48" stroke-width="1.0"/>
<circle cx="601.8" cy="391.6" r="3.65" fill="#fbc29a" stroke="#7d5c48" stroke-width="1.0"/>
<circle cx="609.9" cy="394.0" r="3.65" fill="#fbc29a" stroke="#7d5c48" stroke-width="1.0"/>
<circle cx="378.3" cy="332.6" r="3.65" fill="#fbc29a" stroke="#7d5c48" stroke-width="1.0"/>
<circle cx="386.4" cy="335.0" r="3.65" fill="#fbc29a" stroke="#7d5c48" stroke-width="1.0"/>
<circle cx="394.5" cy="337.4" r="3.65" fill="#fbc29a" stroke="#7d5c48" stroke-width="1.0"/>
<circle cx="402.6" cy="339.8" r="3.65" fill="#fbc29a" stroke="#7d5c48" stroke-width="1.0"/>
<circle cx="410.7" cy="342.2" r="3.65" fill="#fbc29a" stroke="#7d5c48" stroke-width="1.0"/>
<circle cx="418.8" cy="344.6" r="3.65" fill="#fbc29a" stroke="#7d5c48" stroke-width="1.0"/>
<circle cx="426.9" cy="347.0" r="3.65" fill="#fbc29a" stroke="#7d5c48" stroke-width="1.0"/>
<circle cx="435.0" cy="349.3" r="3.65" fill="#fbc29a" stroke="#7d5c48" stroke-width="1.0"/>
<circle cx="443.1" cy="351.7" r="3.65" fill="#fbc29a" stroke="#7d5c48" stroke-width="1.0"/>
<circle cx="451.2" cy="354.1" r="3.65" fill="#fbc29a" stroke="#7d5c48" stroke-width="1.0"/>
<circle cx="459.3" cy="356.5" r="3.65" fill="#fbc29a" stroke="#7d5c48" stroke-width="1.0"/>
<circle cx="467.4" cy="358.9" r="3.65" fill="#fbc29a" stroke="#7d5c48" stroke-width="1.0"/>
<circle cx="475.5" cy="361.3" r="3.65" fill="#fbc29a" stroke="#7d5c48" stroke-width="1.0"/>
<circle cx="483.7" cy="363.7" r="3.65" fill="#fbc29a" stroke="#7d5c48" stroke-width="1.0"/>
<circle cx="491.8" cy="366.0" r="3.65" fill="#fbc29a" stroke="#7d5c48" stroke-width="1.0"/>
<circle cx="499.9" cy="368.4" r="3.65" fill="#fbc29a" stroke="#7d5c48" stroke-width="1.0"/>
<circle cx="508.0" cy="370.8" r="3.65" fill="#fbc29a" stroke="#7d5c48" stroke-width="1.0"/>
<circle cx="516.1" cy="373.2" r="3.65" fill="#fbc29a" stroke="#7d5c48" stroke-width="1.0"/>
<circle cx="524.2" cy="375.6" r="3.65" fill="#fbc29a" stroke="#7d5c48" stroke-width="1.0"/>
<circle cx="532.3" cy="378.0" r="3.65" fill="#fbc29a" stroke="#7d5c48" stroke-width="1.0"/>
<circle cx="540.4" cy="380.4" r="3.65" fill="#fbc29a" stroke="#7d5c48" stroke-width="1.0"/>
<circle cx="548.5" cy="382.7" r="3.65" fill="#fbc29a" stroke="#7d5c48" stroke-width="1.0"/>
<circle cx="556.6" cy="385.1" r="3.65" fill="#fbc29a" stroke="#7d5c48" stroke-width="1.0"/>
<circle cx="564.7" cy="387.5" r="3.65" fill="#fbc29a" stroke="#7d5c48" stroke-width="1.0"/>
<circle cx="572.8" cy="389.9" r="3.65" fill="#fbc29a" stroke="#7d5c48" stroke-width="1.0"/>
<circle cx="580.9" cy="392.3" r="3.65" fill="#fbc29a" stroke="#7d5c48" stroke-width="1.0"/>
<circle cx="589.0" cy="394.7" r="3.65" fill="#fbc29a" stroke="#7d5c48" stroke-width="1.0"/>
<circle cx="597.1" cy="397.1" r="3.65" fill="#fbc29a" stroke="#7d5c48" stroke-width="1.0"/>
<circle cx="605.2" cy="399.4" r="3.65" fill="#fbc29a" stroke="#7d5c48" stroke-width="1.0"/>
<circle cx="613.4" cy="401.8" r="3.65" fill="#fbc29a" stroke="#7d5c48" stroke-width="1.0"/>
<circle cx="640.2" cy="352.7" r="3.8" fill="#20d487" stroke="#168556" stroke-width="0.8"/>
<circle cx="648.5" cy="351.8" r="3.8" fill="#20d487" stroke="#168556" stroke-width="0.8"/>
<circle cx="656.8" cy="351.0" r="3.8" fill="#20d487" stroke="#168556" stroke-width="0.8"/>
<circle cx="665.1" cy="350.1" r="3.8" fill="#20d487" stroke="#168556" stroke-width="0.8"/>
<circle cx="673.4" cy="349.2" r="3.8" fill="#20d487" stroke="#168556" stroke-width="0.8"/>
<circle cx="681.7" cy="348.4" r="3.8" fill="#20d487" stroke="#168556" stroke-width="0.8"/>
<circle cx="690.0" cy="347.5" r="3.8" fill="#20d487" stroke="#168556" stroke-width="0.8"/>
<circle cx="698.3" cy="346.6" r="3.8" fill="#20d487" stroke="#168556" stroke-width="0.8"/>
<circle cx="646.2" cy="359.1" r="3.8" fill="#20d487" stroke="#168556" stroke-width="0.8"/>
<circle cx="654.5" cy="358.3" r="3.8" fill="#20d487" stroke="#168556" stroke-width="0.8"/>
<circle cx="662.8" cy="357.4" r="3.8" fill="#20d487" stroke="#168556" stroke-width="0.8"/>
<circle cx="671.1" cy="356.5" r="3.8" fill="#20d487" stroke="#168556" stroke-width="0.8"/>
<circle cx="679.4" cy="355.6" r="3.8" fill="#20d487" stroke="#168556" stroke-width="0.8"/>
<circle cx="687.7" cy="354.8" r="3.8" fill="#20d487" stroke="#168556" stroke-width="0.8"/>
<circle cx="696.0" cy="353.9" r="3.8" fill="#20d487" stroke="#168556" stroke-width="0.8"/>
<circle cx="704.3" cy="353.0" r="3.8" fill="#20d487" stroke="#168556" stroke-width="0.8"/>
<circle cx="651.5" cy="364.8" r="3.8" fill="#20d487" stroke="#168556" stroke-width="0.8"/>
<circle cx="659.8" cy="363.9" r="3.8" fill="#20d487" stroke="#168556" stroke-width="0.8"/>
<circle cx="668.1" cy="363.1" r="3.8" fill="#20d487" stroke="#168556" stroke-width="0.8"/>
<circle cx="676.4" cy="362.2" r="3.8" fill="#20d487" stroke="#168556" stroke-width="0.8"/>
<circle cx="684.7" cy="361.3" r="3.8" fill="#20d487" stroke="#168556" stroke-width="0.8"/>
<circle cx="693.0" cy="360.4" r="3.8" fill="#20d487" stroke="#168556" stroke-width="0.8"/>
<circle cx="701.3" cy="359.6" r="3.8" fill="#20d487" stroke="#168556" stroke-width="0.8"/>
<circle cx="648.1" cy="372.2" r="3.8" fill="#20d487" stroke="#168556" stroke-width="0.8"/>
<circle cx="656.4" cy="371.3" r="3.8" fill="#20d487" stroke="#168556" stroke-width="0.8"/>
<circle cx="664.7" cy="370.5" r="3.8" fill="#20d487" stroke="#168556" stroke-width="0.8"/>
<circle cx="673.0" cy="369.6" r="3.8" fill="#20d487" stroke="#168556" stroke-width="0.8"/>
<circle cx="681.3" cy="368.7" r="3.8" fill="#20d487" stroke="#168556" stroke-width="0.8"/>
<circle cx="689.6" cy="367.8" r="3.8" fill="#20d487" stroke="#168556" stroke-width="0.8"/>
<circle cx="697.9" cy="367.0" r="3.8" fill="#20d487" stroke="#168556" stroke-width="0.8"/>
<circle cx="706.2" cy="366.1" r="3.8" fill="#20d487" stroke="#168556" stroke-width="0.8"/>
<circle cx="645.3" cy="379.0" r="3.8" fill="#20d487" stroke="#168556" stroke-width="0.8"/>
<circle cx="653.6" cy="378.2" r="3.8" fill="#20d487" stroke="#168556" stroke-width="0.8"/>
<circle cx="661.9" cy="377.3" r="3.8" fill="#20d487" stroke="#168556" stroke-width="0.8"/>
<circle cx="670.2" cy="376.4" r="3.8" fill="#20d487" stroke="#168556" stroke-width="0.8"/>
<circle cx="678.5" cy="375.5" r="3.8" fill="#20d487" stroke="#168556" stroke-width="0.8"/>
<circle cx="686.8" cy="374.7" r="3.8" fill="#20d487" stroke="#168556" stroke-width="0.8"/>
<circle cx="695.1" cy="373.8" r="3.8" fill="#20d487" stroke="#168556" stroke-width="0.8"/>
<circle cx="703.4" cy="372.9" r="3.8" fill="#20d487" stroke="#168556" stroke-width="0.8"/>
<circle cx="657.9" cy="388.7" r="3.8" fill="#20d487" stroke="#168556" stroke-width="0.8"/>
<circle cx="665.8" cy="391.2" r="3.8" fill="#20d487" stroke="#168556" stroke-width="0.8"/>
<circle cx="673.8" cy="393.7" r="3.8" fill="#20d487" stroke="#168556" stroke-width="0.8"/>
<circle cx="681.8" cy="396.2" r="3.8" fill="#20d487" stroke="#168556" stroke-width="0.8"/>
<circle cx="689.7" cy="398.8" r="3.8" fill="#20d487" stroke="#168556" stroke-width="0.8"/>
<circle cx="697.7" cy="401.3" r="3.8" fill="#20d487" stroke="#168556" stroke-width="0.8"/>
<circle cx="705.6" cy="403.8" r="3.8" fill="#20d487" stroke="#168556" stroke-width="0.8"/>
<circle cx="713.6" cy="406.3" r="3.8" fill="#20d487" stroke="#168556" stroke-width="0.8"/>
<circle cx="721.6" cy="408.8" r="3.8" fill="#20d487" stroke="#168556" stroke-width="0.8"/>
<circle cx="661.0" cy="396.7" r="3.8" fill="#20d487" stroke="#168556" stroke-width="0.8"/>
<circle cx="669.0" cy="399.2" r="3.8" fill="#20d487" stroke="#168556" stroke-width="0.8"/>
<circle cx="676.9" cy="401.7" r="3.8" fill="#20d487" stroke="#168556" stroke-width="0.8"/>
<circle cx="684.9" cy="404.3" r="3.8" fill="#20d487" stroke="#168556" stroke-width="0.8"/>
<circle cx="692.8" cy="406.8" r="3.8" fill="#20d487" stroke="#168556" stroke-width="0.8"/>
<circle cx="700.8" cy="409.3" r="3.8" fill="#20d487" stroke="#168556" stroke-width="0.8"/>
<circle cx="708.8" cy="411.8" r="3.8" fill="#20d487" stroke="#168556" stroke-width="0.8"/>
<circle cx="716.7" cy="414.3" r="3.8" fill="#20d487" stroke="#168556" stroke-width="0.8"/>
<circle cx="724.7" cy="416.8" r="3.8" fill="#20d487" stroke="#168556" stroke-width="0.8"/>
<circle cx="663.5" cy="404.5" r="3.8" fill="#20d487" stroke="#168556" stroke-width="0.8"/>
<circle cx="671.4" cy="407.0" r="3.8" fill="#20d487" stroke="#168556" stroke-width="0.8"/>
<circle cx="679.4" cy="409.6" r="3.8" fill="#20d487" stroke="#168556" stroke-width="0.8"/>
<circle cx="687.4" cy="412.1" r="3.8" fill="#20d487" stroke="#168556" stroke-width="0.8"/>
<circle cx="695.3" cy="414.6" r="3.8" fill="#20d487" stroke="#168556" stroke-width="0.8"/>
<circle cx="703.3" cy="417.1" r="3.8" fill="#20d487" stroke="#168556" stroke-width="0.8"/>
<circle cx="711.2" cy="419.6" r="3.8" fill="#20d487" stroke="#168556" stroke-width="0.8"/>
<circle cx="719.2" cy="422.1" r="3.8" fill="#20d487" stroke="#168556" stroke-width="0.8"/>
<circle cx="657.1" cy="409.7" r="3.8" fill="#20d487" stroke="#168556" stroke-width="0.8"/>
<circle cx="665.1" cy="412.2" r="3.8" fill="#20d487" stroke="#168556" stroke-width="0.8"/>
<circle cx="673.1" cy="414.7" r="3.8" fill="#20d487" stroke="#168556" stroke-width="0.8"/>
<circle cx="681.0" cy="417.2" r="3.8" fill="#20d487" stroke="#168556" stroke-width="0.8"/>
<circle cx="689.0" cy="419.7" r="3.8" fill="#20d487" stroke="#168556" stroke-width="0.8"/>
<circle cx="696.9" cy="422.2" r="3.8" fill="#20d487" stroke="#168556" stroke-width="0.8"/>
<circle cx="704.9" cy="424.7" r="3.8" fill="#20d487" stroke="#168556" stroke-width="0.8"/>
<circle cx="712.9" cy="427.2" r="3.8" fill="#20d487" stroke="#168556" stroke-width="0.8"/>
<circle cx="652.2" cy="415.0" r="3.8" fill="#20d487" stroke="#168556" stroke-width="0.8"/>
<circle cx="660.1" cy="417.5" r="3.8" fill="#20d487" stroke="#168556" stroke-width="0.8"/>
<circle cx="668.1" cy="420.0" r="3.8" fill="#20d487" stroke="#168556" stroke-width="0.8"/>
<circle cx="676.1" cy="422.6" r="3.8" fill="#20d487" stroke="#168556" stroke-width="0.8"/>
<circle cx="684.0" cy="425.1" r="3.8" fill="#20d487" stroke="#168556" stroke-width="0.8"/>
<circle cx="692.0" cy="427.6" r="3.8" fill="#20d487" stroke="#168556" stroke-width="0.8"/>
<circle cx="700.0" cy="430.1" r="3.8" fill="#20d487" stroke="#168556" stroke-width="0.8"/>
<circle cx="707.9" cy="432.6" r="3.8" fill="#20d487" stroke="#168556" stroke-width="0.8"/>
<circle cx="634.4" cy="410.4" r="3.8" fill="#20d487" stroke="#168556" stroke-width="0.8"/>
<circle cx="639.3" cy="417.2" r="3.8" fill="#20d487" stroke="#168556" stroke-width="0.8"/>
<circle cx="644.3" cy="423.9" r="3.8" fill="#20d487" stroke="#168556" stroke-width="0.8"/>
<circle cx="649.3" cy="430.7" r="3.8" fill="#20d487" stroke="#168556" stroke-width="0.8"/>
<circle cx="654.3" cy="437.5" r="3.8" fill="#20d487" stroke="#168556" stroke-width="0.8"/>
<circle cx="659.2" cy="444.2" r="3.8" fill="#20d487" stroke="#168556" stroke-width="0.8"/>
<circle cx="664.2" cy="451.0" r="3.8" fill="#20d487" stroke="#168556" stroke-width="0.8"/>
<circle cx="669.2" cy="457.8" r="3.8" fill="#20d487" stroke="#168556" stroke-width="0.8"/>
<circle cx="674.2" cy="464.5" r="3.8" fill="#20d487" stroke="#168556" stroke-width="0.8"/>
<circle cx="631.4" cy="418.2" r="3.8" fill="#20d487" stroke="#168556" stroke-width="0.8"/>
<circle cx="636.4" cy="424.9" r="3.8" fill="#20d487" stroke="#168556" stroke-width="0.8"/>
<circle cx="641.3" cy="431.7" r="3.8" fill="#20d487" stroke="#168556" stroke-width="0.8"/>
<circle cx="646.3" cy="438.5" r="3.8" fill="#20d487" stroke="#168556" stroke-width="0.8"/>
<circle cx="651.3" cy="445.2" r="3.8" fill="#20d487" stroke="#168556" stroke-width="0.8"/>
<circle cx="656.3" cy="452.0" r="3.8" fill="#20d487" stroke="#168556" stroke-width="0.8"/>
<circle cx="661.2" cy="458.8" r="3.8" fill="#20d487" stroke="#168556" stroke-width="0.8"/>
<circle cx="666.2" cy="465.5" r="3.8" fill="#20d487" stroke="#168556" stroke-width="0.8"/>
<circle cx="671.2" cy="472.3" r="3.8" fill="#20d487" stroke="#168556" stroke-width="0.8"/>
<circle cx="628.8" cy="426.0" r="3.8" fill="#20d487" stroke="#168556" stroke-width="0.8"/>
<circle cx="633.8" cy="432.8" r="3.8" fill="#20d487" stroke="#168556" stroke-width="0.8"/>
<circle cx="638.8" cy="439.5" r="3.8" fill="#20d487" stroke="#168556" stroke-width="0.8"/>
<circle cx="643.8" cy="446.3" r="3.8" fill="#20d487" stroke="#168556" stroke-width="0.8"/>
<circle cx="648.7" cy="453.1" r="3.8" fill="#20d487" stroke="#168556" stroke-width="0.8"/>
<circle cx="653.7" cy="459.8" r="3.8" fill="#20d487" stroke="#168556" stroke-width="0.8"/>
<circle cx="658.7" cy="466.6" r="3.8" fill="#20d487" stroke="#168556" stroke-width="0.8"/>
<circle cx="663.6" cy="473.4" r="3.8" fill="#20d487" stroke="#168556" stroke-width="0.8"/>
<circle cx="621.2" cy="427.0" r="3.8" fill="#20d487" stroke="#168556" stroke-width="0.8"/>
<circle cx="626.2" cy="433.8" r="3.8" fill="#20d487" stroke="#168556" stroke-width="0.8"/>
<circle cx="631.2" cy="440.5" r="3.8" fill="#20d487" stroke="#168556" stroke-width="0.8"/>
<circle cx="636.2" cy="447.3" r="3.8" fill="#20d487" stroke="#168556" stroke-width="0.8"/>
<circle cx="641.1" cy="454.1" r="3.8" fill="#20d487" stroke="#168556" stroke-width="0.8"/>
<circle cx="646.1" cy="460.8" r="3.8" fill="#20d487" stroke="#168556" stroke-width="0.8"/>
<circle cx="651.1" cy="467.6" r="3.8" fill="#20d487" stroke="#168556" stroke-width="0.8"/>
<circle cx="656.1" cy="474.4" r="3.8" fill="#20d487" stroke="#168556" stroke-width="0.8"/>
<circle cx="661.0" cy="481.1" r="3.8" fill="#20d487" stroke="#168556" stroke-width="0.8"/>
<circle cx="613.6" cy="427.9" r="3.8" fill="#20d487" stroke="#168556" stroke-width="0.8"/>
<circle cx="618.6" cy="434.7" r="3.8" fill="#20d487" stroke="#168556" stroke-width="0.8"/>
<circle cx="623.5" cy="441.4" r="3.8" fill="#20d487" stroke="#168556" stroke-width="0.8"/>
<circle cx="628.5" cy="448.2" r="3.8" fill="#20d487" stroke="#168556" stroke-width="0.8"/>
<circle cx="633.5" cy="455.0" r="3.8" fill="#20d487" stroke="#168556" stroke-width="0.8"/>
<circle cx="638.5" cy="461.7" r="3.8" fill="#20d487" stroke="#168556" stroke-width="0.8"/>
<circle cx="643.4" cy="468.5" r="3.8" fill="#20d487" stroke="#168556" stroke-width="0.8"/>
<circle cx="648.4" cy="475.3" r="3.8" fill="#20d487" stroke="#168556" stroke-width="0.8"/>
<circle cx="653.4" cy="482.0" r="3.8" fill="#20d487" stroke="#168556" stroke-width="0.8"/>
<ellipse cx="492.9" cy="339.1" rx="4.5" ry="4.9" fill="#6a0cb0" stroke="#3a0670" stroke-width="0.8"/>
<ellipse cx="502.1" cy="340.4" rx="4.1" ry="4.9" fill="#6a0cb0" stroke="#3a0670" stroke-width="0.8"/>
<line x1="422.6" y1="359.7" x2="383.2" y2="348.5" stroke="#b01818" stroke-width="2.2"/>
<path d="M371.9,345.4 L387.5,341.5 L383.2,348.5 L383.2,356.2 Z" fill="#b01818"/>
<line x1="514.3" y1="332.7" x2="573.5" y2="346.9" stroke="#6a0cc0" stroke-width="2.2"/>
<path d="M583.6,349 L571.7,338.3 L573.5,346.9 L568.1,353.3 Z" fill="#6a0cc0"/>
<text x="507" y="140.1" font-size="13.8" text-anchor="start" font-weight="normal" fill="#1e1e1e" stroke="#1e1e1e" stroke-width="0.35">G&#945;<tspan font-size="9" dy="4">i</tspan><tspan dy="-4"> GDP</tspan></text>
<text x="662.9" y="128.6" font-size="13.8" text-anchor="middle" font-weight="normal" fill="#1e1e1e" stroke="#1e1e1e" stroke-width="0.35">Cell</text>
<text x="662.9" y="144.8" font-size="13.8" text-anchor="middle" font-weight="normal" fill="#1e1e1e" stroke="#1e1e1e" stroke-width="0.35">membrane</text>
<text x="431.8" y="171" font-size="13.8" text-anchor="middle" font-weight="normal" fill="#1e1e1e" stroke="#1e1e1e" stroke-width="0.35">LGN</text>
<text x="545.7" y="225.9" font-size="13.8" text-anchor="middle" font-weight="normal" fill="#1e1e1e" stroke="#1e1e1e" stroke-width="0.35">NuMA</text>
<text x="390.3" y="278.7" font-size="13.8" text-anchor="middle" font-weight="normal" fill="#1e1e1e" stroke="#1e1e1e" stroke-width="0.35">Plus</text>
<text x="390.3" y="295.2" font-size="13.8" text-anchor="middle" font-weight="normal" fill="#1e1e1e" stroke="#1e1e1e" stroke-width="0.35">end</text>
<text x="473.1" y="301" font-size="13.8" text-anchor="middle" font-weight="normal" fill="#1e1e1e" stroke="#1e1e1e" stroke-width="0.35">Dynein</text>
<text x="551.8" y="313.2" font-size="13.8" text-anchor="middle" font-weight="normal" fill="#1e1e1e" stroke="#1e1e1e" stroke-width="0.35">Dynein</text>
<text x="551.8" y="329.4" font-size="13.8" text-anchor="middle" font-weight="normal" fill="#1e1e1e" stroke="#1e1e1e" stroke-width="0.35">movement</text>
<text x="615.7" y="341.5" font-size="13.8" text-anchor="middle" font-weight="normal" fill="#1e1e1e" stroke="#1e1e1e" stroke-width="0.35">Minus</text>
<text x="616.8" y="358.7" font-size="13.8" text-anchor="middle" font-weight="normal" fill="#1e1e1e" stroke="#1e1e1e" stroke-width="0.35">end</text>
<text x="712" y="320.3" font-size="13.8" text-anchor="middle" font-weight="normal" fill="#1e1e1e" stroke="#1e1e1e" stroke-width="0.35">Plus</text>
<text x="712" y="336.3" font-size="13.8" text-anchor="middle" font-weight="normal" fill="#1e1e1e" stroke="#1e1e1e" stroke-width="0.35">end</text>
<text x="381.8" y="371.8" font-size="13.8" text-anchor="middle" font-weight="normal" fill="#1e1e1e" stroke="#1e1e1e" stroke-width="0.35">Pulling</text>
<text x="381.8" y="388.2" font-size="13.8" text-anchor="middle" font-weight="normal" fill="#1e1e1e" stroke="#1e1e1e" stroke-width="0.35">force</text>
<text x="479.3" y="385.3" font-size="13.8" text-anchor="middle" font-weight="normal" fill="#1e1e1e" stroke="#1e1e1e" stroke-width="0.35">Astral</text>
<text x="479.3" y="401.7" font-size="13.8" text-anchor="middle" font-weight="normal" fill="#1e1e1e" stroke="#1e1e1e" stroke-width="0.35">microtubule</text>
<text x="555" y="425.5" font-size="13.8" text-anchor="middle" font-weight="normal" fill="#1e1e1e" stroke="#1e1e1e" stroke-width="0.35">Centrosome</text>
<text x="570.9" y="464.8" font-size="13.8" text-anchor="middle" font-weight="normal" fill="#1e1e1e" stroke="#1e1e1e" stroke-width="0.35">Kinetochore and</text>
<text x="570.9" y="481.1" font-size="13.8" text-anchor="middle" font-weight="normal" fill="#1e1e1e" stroke="#1e1e1e" stroke-width="0.35">nonkinetochore</text>
<text x="570.9" y="497.5" font-size="13.8" text-anchor="middle" font-weight="normal" fill="#1e1e1e" stroke="#1e1e1e" stroke-width="0.35">microtubules</text>
</svg>
</body></html>
